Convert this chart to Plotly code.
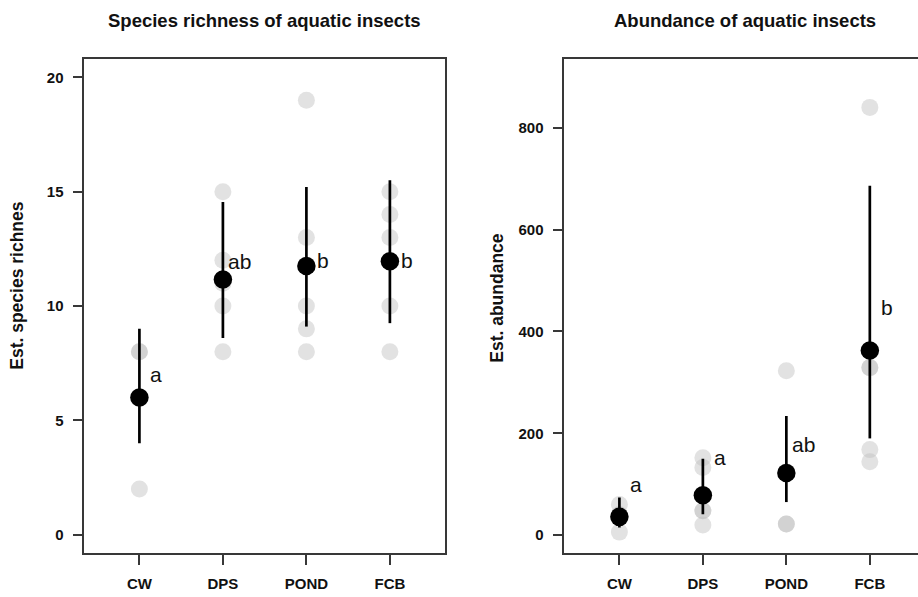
import plotly.graph_objects as go

# ---------------- data ----------------
categories = ["CW", "DPS", "POND", "FCB"]

# Species richness (left panel)
rich_obs = {
    "CW": [8, 8, 6, 6, 2],
    "DPS": [15, 12, 11, 10, 8],
    "POND": [19, 13, 10, 9, 8],
    "FCB": [15, 14, 13, 10, 8],
}
rich_mean = [6.0, 11.16, 11.75, 11.96]
rich_lo = [4.0, 8.6, 9.1, 9.25]
rich_hi = [9.0, 14.55, 15.2, 15.5]
rich_letters = ["a", "ab", "b", "b"]
rich_letter_y = [7.0, 11.95, 12.0, 12.0]

# Abundance (right panel)
abun_obs = {
    "CW": [60, 40, 40, 37, 6],
    "DPS": [152, 133, 48, 48, 20],
    "POND": [323, 124, 122, 22, 22],
    "FCB": [840, 329, 329, 168, 144],
}
abun_mean = [36.0, 78.4, 122.0, 362.7]
abun_lo = [15.0, 41.0, 65.0, 190.0]
abun_hi = [74.0, 150.0, 234.0, 686.0]
abun_letters = ["a", "a", "ab", "b"]
abun_letter_y = [100, 152, 178, 448]

rich_ticks = [0, 5, 10, 15, 20]
abun_ticks = [0, 200, 400, 600, 800]

titles = ["Species richness of aquatic insects", "Abundance of aquatic insects"]
ytitles = ["Est. species richnes", "Est. abundance"]

# ---------------- layout constants ----------------
W, H = 918, 597
top, bottom = 59, 553.5
FONT = "Liberation Sans, Arial, sans-serif"
GRAY = "rgba(190,190,190,0.45)"
LINE = "#383838"

fig = go.Figure()


def add_panel(obs, mean, lo, hi, xa, ya):
    xs, ys = [], []
    for c in categories:
        for v in obs[c]:
            xs.append(c)
            ys.append(v)
    fig.add_trace(go.Scatter(
        x=xs, y=ys, mode="markers", xaxis=xa, yaxis=ya,
        marker=dict(size=17, color=GRAY, line=dict(width=0)),
        hoverinfo="skip", showlegend=False))
    fig.add_trace(go.Scatter(
        x=categories, y=mean, mode="markers", xaxis=xa, yaxis=ya,
        marker=dict(size=18.5, color="black", line=dict(width=0)),
        error_y=dict(type="data", symmetric=False,
                     array=[h - m for h, m in zip(hi, mean)],
                     arrayminus=[m - l for m, l in zip(mean, lo)],
                     color="black", thickness=2.7, width=0),
        showlegend=False))


add_panel(rich_obs, rich_mean, rich_lo, rich_hi, "x", "y")
add_panel(abun_obs, abun_mean, abun_lo, abun_hi, "x2", "y2")

axis_common = dict(
    showline=True, linecolor=LINE, linewidth=1.5,
    ticks="outside", ticklen=10, tickwidth=1.5, tickcolor=LINE,
    showgrid=False, zeroline=False, automargin=False,
    tickfont=dict(family=FONT, size=15, color="#111", weight="bold"),
)

fig.update_layout(
    width=W, height=H,
    margin=dict(l=0, r=0, t=top, b=H - bottom),
    paper_bgcolor="white", plot_bgcolor="white",
    xaxis=dict(axis_common, domain=[84.3 / W, 445 / W], anchor="y",
               type="category", categoryorder="array", categoryarray=categories,
               range=[-0.66, 3.66], mirror=True, ticklabelstandoff=6),
    yaxis=dict(axis_common, domain=[0, 1], anchor="x",
               range=[-0.8, 20.8], tickvals=rich_ticks, mirror=True,
               ticklabelstandoff=6),
    xaxis2=dict(axis_common, domain=[564.3 / W, 1.0], anchor="y2",
                type="category", categoryorder="array", categoryarray=categories,
                range=[-0.66, 3.577], mirror=True, ticklabelstandoff=6),
    yaxis2=dict(axis_common, domain=[0, 1], anchor="x2",
                range=[-35, 935], tickvals=abun_ticks, mirror=False,
                ticklabelstandoff=6),
)

ann = []
# letters
for xa, ya, letters, ly in (("x", "y", rich_letters, rich_letter_y),
                            ("x2", "y2", abun_letters, abun_letter_y)):
    for c, t, yv in zip(categories, letters, ly):
        ann.append(dict(x=c, y=yv, xref=xa, yref=ya, text=t, showarrow=False,
                        xshift=17, yshift=0, xanchor="center", yanchor="middle",
                        font=dict(family=FONT, size=21, color="#111")))


def py(p):
    return (bottom - p) / (bottom - top)


# titles
for t, cx in zip(titles, [264.5, 744.5]):
    ann.append(dict(x=cx / W, y=py(20), xref="paper", yref="paper", text=t,
                    showarrow=False, xanchor="center", yanchor="middle",
                    font=dict(family=FONT, size=18.5, color="#111", weight="bold")))
# y-axis titles
for t, cx, cy in zip(ytitles, [17, 497], [286, 298]):
    ann.append(dict(x=cx / W, y=py(cy), xref="paper", yref="paper", text=t,
                    showarrow=False, textangle=-90, xanchor="center", yanchor="middle",
                    font=dict(family=FONT, size=17.5, color="#111", weight="bold")))

fig.update_layout(annotations=ann)
fig.write_html("out.html")
